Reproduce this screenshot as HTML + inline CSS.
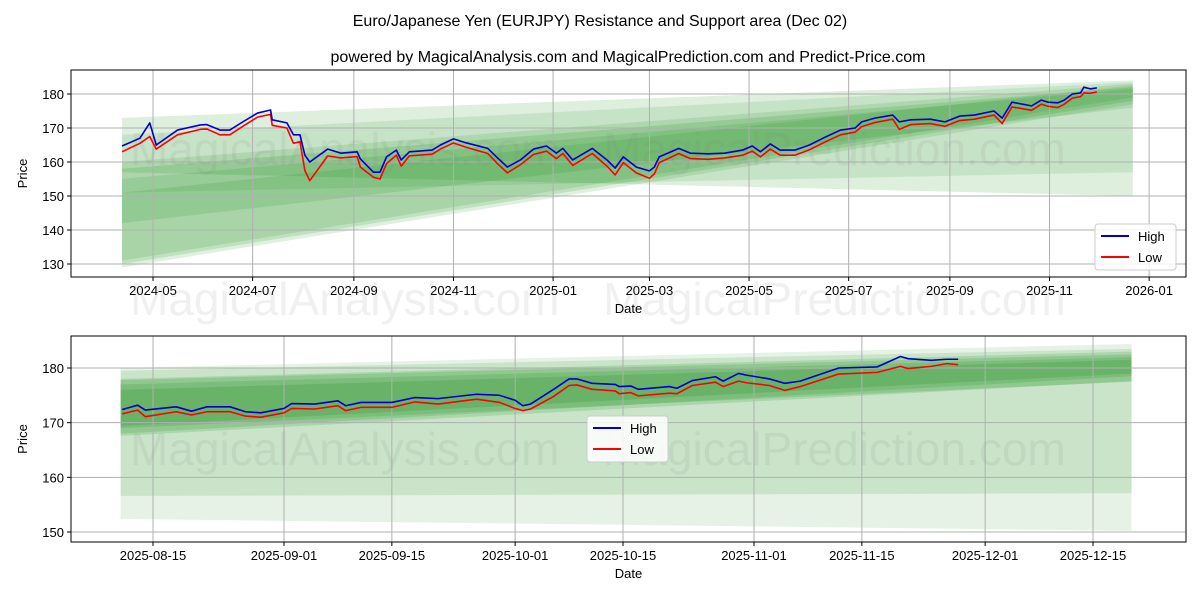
<!DOCTYPE html>
<html><head><meta charset="utf-8"><style>
body{margin:0;background:#fff;}
svg{display:block;font-family:"Liberation Sans","DejaVu Sans",sans-serif;}
</style></head><body>
<svg id="chart" width="1200" height="600" xmlns="http://www.w3.org/2000/svg">
<text x="600" y="26" text-anchor="middle" font-size="16">Euro/Japanese Yen (EURJPY) Resistance and Support area (Dec 02)</text>
<text x="628" y="62" text-anchor="middle" font-size="16">powered by MagicalAnalysis.com and MagicalPrediction.com and Predict-Price.com</text>
</svg>
<script>
// ---- Top chart data (days since 2024-05-01) ----
const topDays=[-19,-8,-2,2,15,29,33,41,47,55,64,72,73,82,86,90,93,96,107,115,125,127,135,139,143,149,152,157,171,176,184,192,205,211,217,225,233,241,247,251,257,269,278,283,288,296,304,307,310,322,329,340,350,361,367,372,378,384,393,402,412,421,430,434,442,453,457,464,476,485,494,503,515,520,526,538,544,548,554,558,563,568,570,574,578];
const topHigh=[164.7,167,171.5,165,169.4,170.9,171,169.4,169.4,171.8,174.4,175.3,172.4,171.5,168,168,162,160,163.8,162.6,163,160.9,157,157,161.5,163.5,160.6,163,163.5,165,166.8,165.6,164,161.2,158.5,160.6,163.8,164.7,162.6,164,160.6,164,160.6,158.2,161.5,158.5,157.4,158.5,161.5,164,162.6,162.4,162.6,163.5,164.7,163,165.3,163.5,163.5,165,167.4,169.4,170,171.8,172.9,173.8,171.8,172.4,172.6,171.8,173.5,173.8,175,172.9,177.6,176.5,178.2,177.6,177.4,178.2,180,180.3,182,181.5,181.8];
const topLow=[163,165.5,167.5,163.8,168,169.6,169.7,168,168,170.5,173.2,174,170.8,170,165.5,166,157.5,154.5,161.8,161.2,161.6,158.5,155.5,155,159.5,162,158.8,161.8,162.3,163.8,165.6,164.3,162.5,159.5,156.8,159.2,162.2,163.2,161,162.5,159,162.5,158.8,156.2,159.8,156.8,155.2,156.5,159.8,162.5,161,160.8,161.2,162,163.2,161.5,163.8,162,162,163.6,166,168,168.8,170.4,171.6,172.6,169.6,171,171.3,170.5,172.2,172.6,173.8,171.3,176.2,175.2,177,176.4,176,177,178.8,179.2,180.3,180.2,180.6];
const topTickDays=[0,61,123,184,245,304,365,426,488,549,610];
const topTickLabels=["2024-05","2024-07","2024-09","2024-11","2025-01","2025-03","2025-05","2025-07","2025-09","2025-11","2026-01"];
const topYTicks=[130,140,150,160,170,180];
const topBandStart=-19, topBandEnd=600;
const topBandStartHi=[173,168,160,158,155,151];
const topBandStartLo=[157,151,142,130,129,131];
const topBandEndHi=[184,183.5,183,182,181.5,182.5];
const topBandEndLo=[150,157,176,178,177,179];
// ---- Bottom chart data (days since 2025-08-15) ----
const botDays=[-4,-2,-1,3,5,7,10,12,14,17,18,21,24,25,27,31,34,37,42,45,47,48,49,52,54,55,57,60,60.5,62,63,67,68,70,73,74,76,77,80,82,84,89,94,97,98,101,103,104.5];
const botHigh=[172.4,173.2,172.3,172.9,172.1,172.9,172.9,172.0,171.8,172.6,173.5,173.4,174.0,173.1,173.7,173.7,174.6,174.4,175.2,175.0,174.1,173.1,173.4,176.1,178.0,178.0,177.2,177.0,176.6,176.7,176.1,176.6,176.3,177.7,178.4,177.6,179.0,178.7,178.0,177.2,177.6,180.0,180.2,182.1,181.7,181.4,181.6,181.6];
const botLow=[171.6,172.3,171.1,172.0,171.4,172.0,172.0,171.2,171.0,171.8,172.6,172.5,173.1,172.2,172.8,172.8,173.8,173.4,174.3,173.7,172.6,172.2,172.5,174.8,176.8,176.9,176.1,175.8,175.3,175.5,174.9,175.4,175.3,176.8,177.4,176.6,177.6,177.3,176.8,175.9,176.6,178.9,179.2,180.3,179.9,180.3,180.8,180.6];
const botTickDays=[0,17,31,47,61,78,92,108,122];
const botTickLabels=["2025-08-15","2025-09-01","2025-09-15","2025-10-01","2025-10-15","2025-11-01","2025-11-15","2025-12-01","2025-12-15"];
const botYTicks=[150,160,170,180];
const botBandStart=-4.2, botBandEnd=127;
const botBandStartHi=[180,179.5,178,177,176,177.8];
const botBandStartLo=[152.4,156.6,167.6,169,168,169.4];
const botBandEndHi=[184.4,183.5,183,182,181.5,182.5];
const botBandEndLo=[150.2,157.1,177.6,177.5,178.5,179];

const NS="http://www.w3.org/2000/svg";
const svg=document.getElementById('chart');
function mk(tag,attrs,parent){const e=document.createElementNS(NS,tag);for(const k in attrs)e.setAttribute(k,attrs[k]);(parent||svg).appendChild(e);return e;}

function drawPanel(o){
  const g=mk('g',{});
  
  
  const X=d=>o.x0+(d-o.d0)*o.pxPerDay;
  const Y=v=>o.y0+(o.v0-v)*o.pxPerVal;
  for(let i=0;i<o.bsh.length;i++){
    const p=[[X(o.bs),Y(o.bsh[i])],[X(o.be),Y(o.beh[i])],[X(o.be),Y(o.bel[i])],[X(o.bs),Y(o.bsl[i])]];
    const b=mk('polygon',{points:p.map(q=>q.join(',')).join(' '),fill:'rgb(0,128,0)','fill-opacity':o.alpha[i]},g);
    
    
  }
  o.xt.forEach((d,i)=>{
    const l=mk('line',{x1:X(d),x2:X(d),y1:o.top,y2:o.bot,stroke:'#b0b0b0','stroke-width':1},g);
    
    
    mk('line',{x1:X(d),x2:X(d),y1:o.bot,y2:o.bot+4,stroke:'#000'},g);
    const t=mk('text',{x:X(d),y:o.bot+18,'text-anchor':'middle','font-size':13},g);
    t.textContent=o.xl[i];
    
    
  });
  o.yt.forEach(v=>{
    const l=mk('line',{x1:o.left,x2:o.right,y1:Y(v),y2:Y(v),stroke:'#b0b0b0','stroke-width':1},g);
    
    
    mk('line',{x1:o.left-4,x2:o.left,y1:Y(v),y2:Y(v),stroke:'#000'},g);
    const t=mk('text',{x:o.left-7,y:Y(v)+5,'text-anchor':'end','font-size':13},g);
    t.textContent=v;
    
    
  });
  o.wm.forEach(w=>{
    const t=mk('text',{x:w[0],y:w[1],'font-size':46,fill:'#808080','fill-opacity':0.12},g);
    t.textContent=w[2];
    
    
  });
  const line=(days,vals,col,nm)=>{
    const p=mk('polyline',{points:days.map((d,i)=>X(d)+','+Y(vals[i])).join(' '),fill:'none',stroke:col,'stroke-width':1.6,'stroke-linejoin':'round'},g);
    
    
  };
  line(o.days,o.low,'#ff0000','low-line');
  line(o.days,o.high,'#0000cc','high-line');
  const f=mk('rect',{x:o.left,y:o.top,width:o.right-o.left,height:o.bot-o.top,fill:'none',stroke:'#000','stroke-width':1},g);
  
  
  const xl=mk('text',{x:(o.left+o.right)/2,y:o.bot+36,'text-anchor':'middle','font-size':13},g);
  xl.textContent='Date';
  
  
  const yl=mk('text',{x:0,y:0,'text-anchor':'middle','font-size':13,transform:`translate(27,${(o.top+o.bot)/2}) rotate(-90)`},g);
  yl.textContent='Price';
  
  
  const lg=mk('g',{},g);
  
  
  mk('rect',{x:o.lx,y:o.ly,width:81,height:46,rx:3,fill:'#fff','fill-opacity':0.85,stroke:'#ccc'},lg);
  [['High','#0000cc'],['Low','#ff0000']].forEach((e,i)=>{
    const yy=o.ly+12+i*21;
    mk('line',{x1:o.lx+6,x2:o.lx+34,y1:yy,y2:yy,stroke:e[1],'stroke-width':2},lg);
    const t=mk('text',{x:o.lx+43,y:yy+5,'font-size':13},lg);
    t.textContent=e[0];
    
    
  });
}
drawPanel({name:'top-panel',left:71,right:1186,top:70,bot:277,x0:153,d0:0,pxPerDay:1.633,y0:94,v0:180,pxPerVal:3.4,
  days:topDays,high:topHigh,low:topLow,xt:topTickDays,xl:topTickLabels,yt:topYTicks,
  bs:topBandStart,be:topBandEnd,bsh:topBandStartHi,bsl:topBandStartLo,beh:topBandEndHi,bel:topBandEndLo,
  alpha:[0.13,0.1,0.12,0.14,0.12,0.12],
  wm:[[130,165,'MagicalAnalysis.com'],[603,165,'MagicalPrediction.com'],[130,315,'MagicalAnalysis.com'],[603,315,'MagicalPrediction.com']],
  lx:1095,ly:224});
drawPanel({name:'bottom-panel',left:71,right:1186,top:336,bot:542,x0:153,d0:0,pxPerDay:7.705,y0:368,v0:180,pxPerVal:5.467,
  days:botDays,high:botHigh,low:botLow,xt:botTickDays,xl:botTickLabels,yt:botYTicks,
  bs:botBandStart,be:botBandEnd,bsh:botBandStartHi,bsl:botBandStartLo,beh:botBandEndHi,bel:botBandEndLo,
  alpha:[0.1,0.12,0.15,0.15,0.15,0.15],
  wm:[[130,465,'MagicalAnalysis.com'],[603,465,'MagicalPrediction.com']],
  lx:587,ly:416});
</script>
</body></html>
